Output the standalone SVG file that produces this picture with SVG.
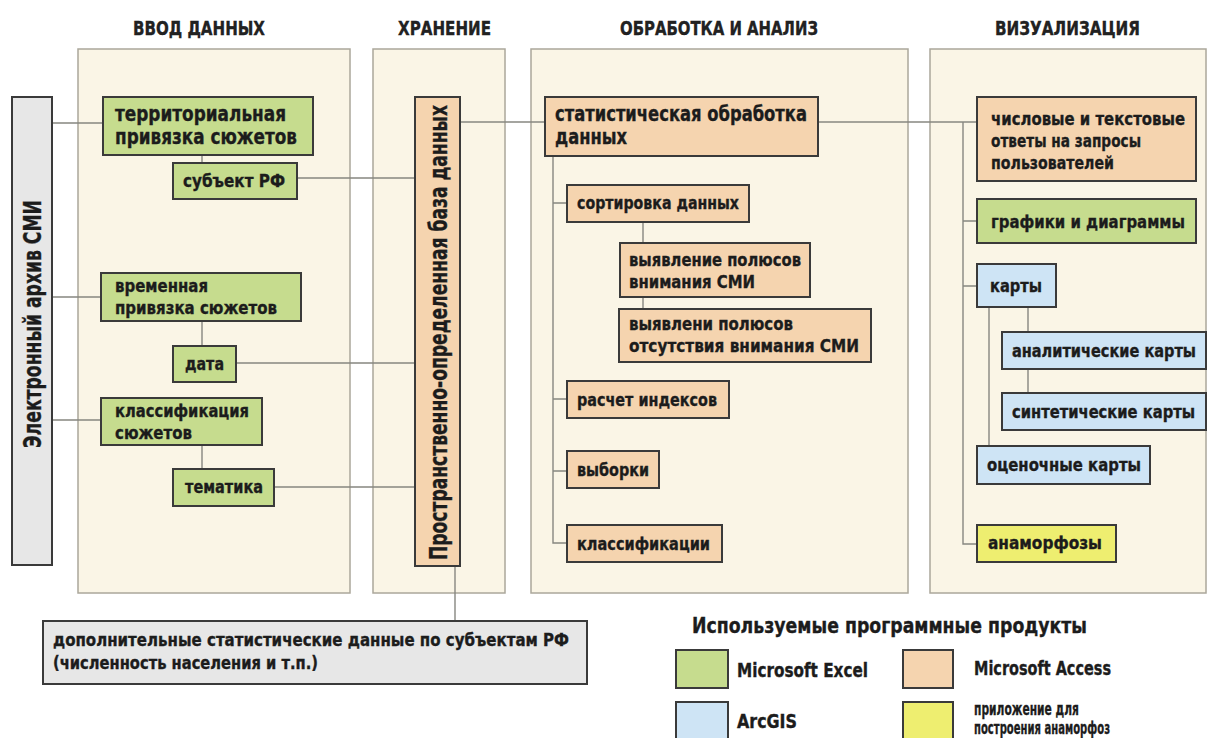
<svg xmlns="http://www.w3.org/2000/svg" width="1210" height="738" viewBox="0 0 1210 738">
<style>
text{font-family:"Liberation Sans Narrow","DejaVu Sans Condensed","Liberation Sans",Arial,sans-serif;font-weight:bold;fill:#1c1c1c;stroke:#1c1c1c;stroke-width:0.35;font-size:18.5px}
.h{font-size:20px;fill:#222}
.big{font-size:21px}
.rot{font-size:25px}
.sm{font-size:17.5px}
.lh{font-size:22px}
.ll{font-size:19px}
.ls{font-size:18.5px}
.panel{fill:#faf5e6;stroke:#aba79b;stroke-width:1.5}
.box{stroke:#3a3a3a;stroke-width:2}
.g{fill:#c6dc8e}
.o{fill:#f5d4af}
.b{fill:#cee4f5}
.y{fill:#eeee70}
.gr{fill:#e7e7e7}
.ln{fill:none;stroke:#878780;stroke-width:1.4}
</style>
<rect width="1210" height="738" fill="#ffffff"/>

<g id="headings">
<text class="h" x="133" y="35" textLength="132" lengthAdjust="spacingAndGlyphs">ВВОД ДАННЫХ</text>
<text class="h" x="398" y="35" textLength="93" lengthAdjust="spacingAndGlyphs">ХРАНЕНИЕ</text>
<text class="h" x="620" y="35" textLength="198" lengthAdjust="spacingAndGlyphs">ОБРАБОТКА И АНАЛИЗ</text>
<text class="h" x="995" y="35" textLength="145" lengthAdjust="spacingAndGlyphs">ВИЗУАЛИЗАЦИЯ</text>
</g>

<g id="panels">
<rect class="panel" x="78" y="49" width="272" height="544"/>
<rect class="panel" x="373" y="49" width="132" height="544"/>
<rect class="panel" x="531" y="49" width="377" height="544"/>
<rect class="panel" x="930" y="49" width="276" height="544"/>
</g>

<g id="connectors">
<path class="ln" d="M52 123H103M52 297H101M52 420H101"/>
<path class="ln" d="M202 155V163M202 321V346M202 445V469"/>
<path class="ln" d="M297 178H415M236 363H415M274 487H415"/>
<path class="ln" d="M460 122H545"/>
<path class="ln" d="M455 566V621"/>
<path class="ln" d="M553 156V543H567M553 203H567M553 399H567M553 471H567"/>
<path class="ln" d="M643 222V243M643 297V309"/>
<path class="ln" d="M818 122H977"/>
<path class="ln" d="M963 122V544H977M963 221H977M963 286H977"/>
<path class="ln" d="M989 307V446M1028 307V332M1028 369V393"/>
</g>

<g id="archive">
<rect class="box gr" x="12" y="97" width="40" height="468"/>
<text class="rot" transform="translate(41,448) rotate(-90)" textLength="248" lengthAdjust="spacingAndGlyphs">Электронный архив СМИ</text>
</g>

<g id="terr">
<rect class="box g" x="103" y="97" width="210" height="58"/>
<text class="big" x="115" y="121" textLength="171" lengthAdjust="spacingAndGlyphs">территориальная</text>
<text class="big" x="115" y="144" textLength="182" lengthAdjust="spacingAndGlyphs">привязка сюжетов</text>
</g>
<g id="subject">
<rect class="box g" x="173" y="163" width="124" height="36"/>
<text x="183" y="187" textLength="102" lengthAdjust="spacingAndGlyphs">субъект РФ</text>
</g>
<g id="time">
<rect class="box g" x="101" y="273" width="200" height="48"/>
<text x="115" y="292" textLength="93" lengthAdjust="spacingAndGlyphs">временная</text>
<text x="115" y="314" textLength="162" lengthAdjust="spacingAndGlyphs">привязка сюжетов</text>
</g>
<g id="date">
<rect class="box g" x="173" y="346" width="63" height="36"/>
<text x="185" y="370" textLength="39" lengthAdjust="spacingAndGlyphs">дата</text>
</g>
<g id="classif">
<rect class="box g" x="101" y="398" width="161" height="47"/>
<text x="115" y="417" textLength="134" lengthAdjust="spacingAndGlyphs">классификация</text>
<text x="115" y="439" textLength="77" lengthAdjust="spacingAndGlyphs">сюжетов</text>
</g>
<g id="theme">
<rect class="box g" x="173" y="469" width="101" height="37"/>
<text x="185" y="493" textLength="78" lengthAdjust="spacingAndGlyphs">тематика</text>
</g>

<g id="db">
<rect class="box o" x="415" y="97" width="45" height="469"/>
<text class="rot" transform="translate(447,560) rotate(-90)" textLength="455" lengthAdjust="spacingAndGlyphs">Пространственно-определенная база данных</text>
</g>

<g id="stat">
<rect class="box o" x="545" y="97" width="273" height="59"/>
<text class="big" x="555" y="121" textLength="252" lengthAdjust="spacingAndGlyphs">статистическая обработка</text>
<text class="big" x="555" y="144" textLength="72" lengthAdjust="spacingAndGlyphs">данных</text>
</g>
<g id="sort">
<rect class="box o" x="567" y="185" width="182" height="37"/>
<text x="577" y="209" textLength="162" lengthAdjust="spacingAndGlyphs">сортировка данных</text>
</g>
<g id="poles">
<rect class="box o" x="620" y="243" width="190" height="54"/>
<text x="629" y="266" textLength="172" lengthAdjust="spacingAndGlyphs">выявление полюсов</text>
<text x="629" y="288" textLength="126" lengthAdjust="spacingAndGlyphs">внимания СМИ</text>
</g>
<g id="nopoles">
<rect class="box o" x="619" y="309" width="252" height="53"/>
<text x="629" y="330" textLength="164" lengthAdjust="spacingAndGlyphs">выявлени полюсов</text>
<text x="629" y="352" textLength="230" lengthAdjust="spacingAndGlyphs">отсутствия внимания СМИ</text>
</g>
<g id="index">
<rect class="box o" x="567" y="381" width="162" height="37"/>
<text x="577" y="406" textLength="140" lengthAdjust="spacingAndGlyphs">расчет индексов</text>
</g>
<g id="samples">
<rect class="box o" x="567" y="451" width="92" height="37"/>
<text x="577" y="476" textLength="72" lengthAdjust="spacingAndGlyphs">выборки</text>
</g>
<g id="classes">
<rect class="box o" x="567" y="525" width="155" height="37"/>
<text x="577" y="550" textLength="133" lengthAdjust="spacingAndGlyphs">классификации</text>
</g>

<g id="answers">
<rect class="box o" x="977" y="97" width="219" height="84"/>
<text x="991" y="125" textLength="194" lengthAdjust="spacingAndGlyphs">числовые и текстовые</text>
<text x="991" y="147" textLength="150" lengthAdjust="spacingAndGlyphs">ответы на запросы</text>
<text x="991" y="169" textLength="123" lengthAdjust="spacingAndGlyphs">пользователей</text>
</g>
<g id="charts">
<rect class="box g" x="977" y="199" width="219" height="44"/>
<text x="991" y="228" textLength="194" lengthAdjust="spacingAndGlyphs">графики и диаграммы</text>
</g>
<g id="maps">
<rect class="box b" x="977" y="264" width="79" height="43"/>
<text x="990" y="292" textLength="52" lengthAdjust="spacingAndGlyphs">карты</text>
</g>
<g id="anmaps">
<rect class="box b" x="1002" y="332" width="204" height="37"/>
<text class="sm" x="1012" y="357" textLength="184" lengthAdjust="spacingAndGlyphs">аналитические карты</text>
</g>
<g id="synmaps">
<rect class="box b" x="1002" y="393" width="204" height="37"/>
<text class="sm" x="1012" y="418" textLength="183" lengthAdjust="spacingAndGlyphs">синтетические карты</text>
</g>
<g id="evmaps">
<rect class="box b" x="977" y="446" width="173" height="38"/>
<text x="987" y="471" textLength="154" lengthAdjust="spacingAndGlyphs">оценочные карты</text>
</g>
<g id="anamorph">
<rect class="box y" x="977" y="525" width="139" height="37"/>
<text x="988" y="549" textLength="114" lengthAdjust="spacingAndGlyphs">анаморфозы</text>
</g>

<g id="extra">
<rect class="box gr" x="43" y="621" width="544" height="63"/>
<text x="53" y="646" textLength="516" lengthAdjust="spacingAndGlyphs">дополнительные статистические данные по субъектам РФ</text>
<text x="53" y="669" textLength="265" lengthAdjust="spacingAndGlyphs">(численность населения и т.п.)</text>
</g>

<g id="legend">
<text class="lh" x="692" y="633" textLength="395" lengthAdjust="spacingAndGlyphs">Используемые программные продукты</text>
<rect class="box g" x="676" y="650" width="52" height="38"/>
<text class="ll" x="737" y="677" textLength="131" lengthAdjust="spacingAndGlyphs">Microsoft Excel</text>
<rect class="box b" x="676" y="702" width="52" height="40"/>
<text class="ll" x="737" y="728" textLength="60" lengthAdjust="spacingAndGlyphs">ArcGIS</text>
<rect class="box o" x="903" y="650" width="50" height="38"/>
<text class="ll" x="974" y="675" textLength="137" lengthAdjust="spacingAndGlyphs">Microsoft Access</text>
<rect class="box y" x="903" y="702" width="50" height="40"/>
<text class="ls" x="974" y="715" textLength="105" lengthAdjust="spacingAndGlyphs">приложение для</text>
<text class="ls" x="974" y="734" textLength="136" lengthAdjust="spacingAndGlyphs">построения анаморфоз</text>
</g>
</svg>
